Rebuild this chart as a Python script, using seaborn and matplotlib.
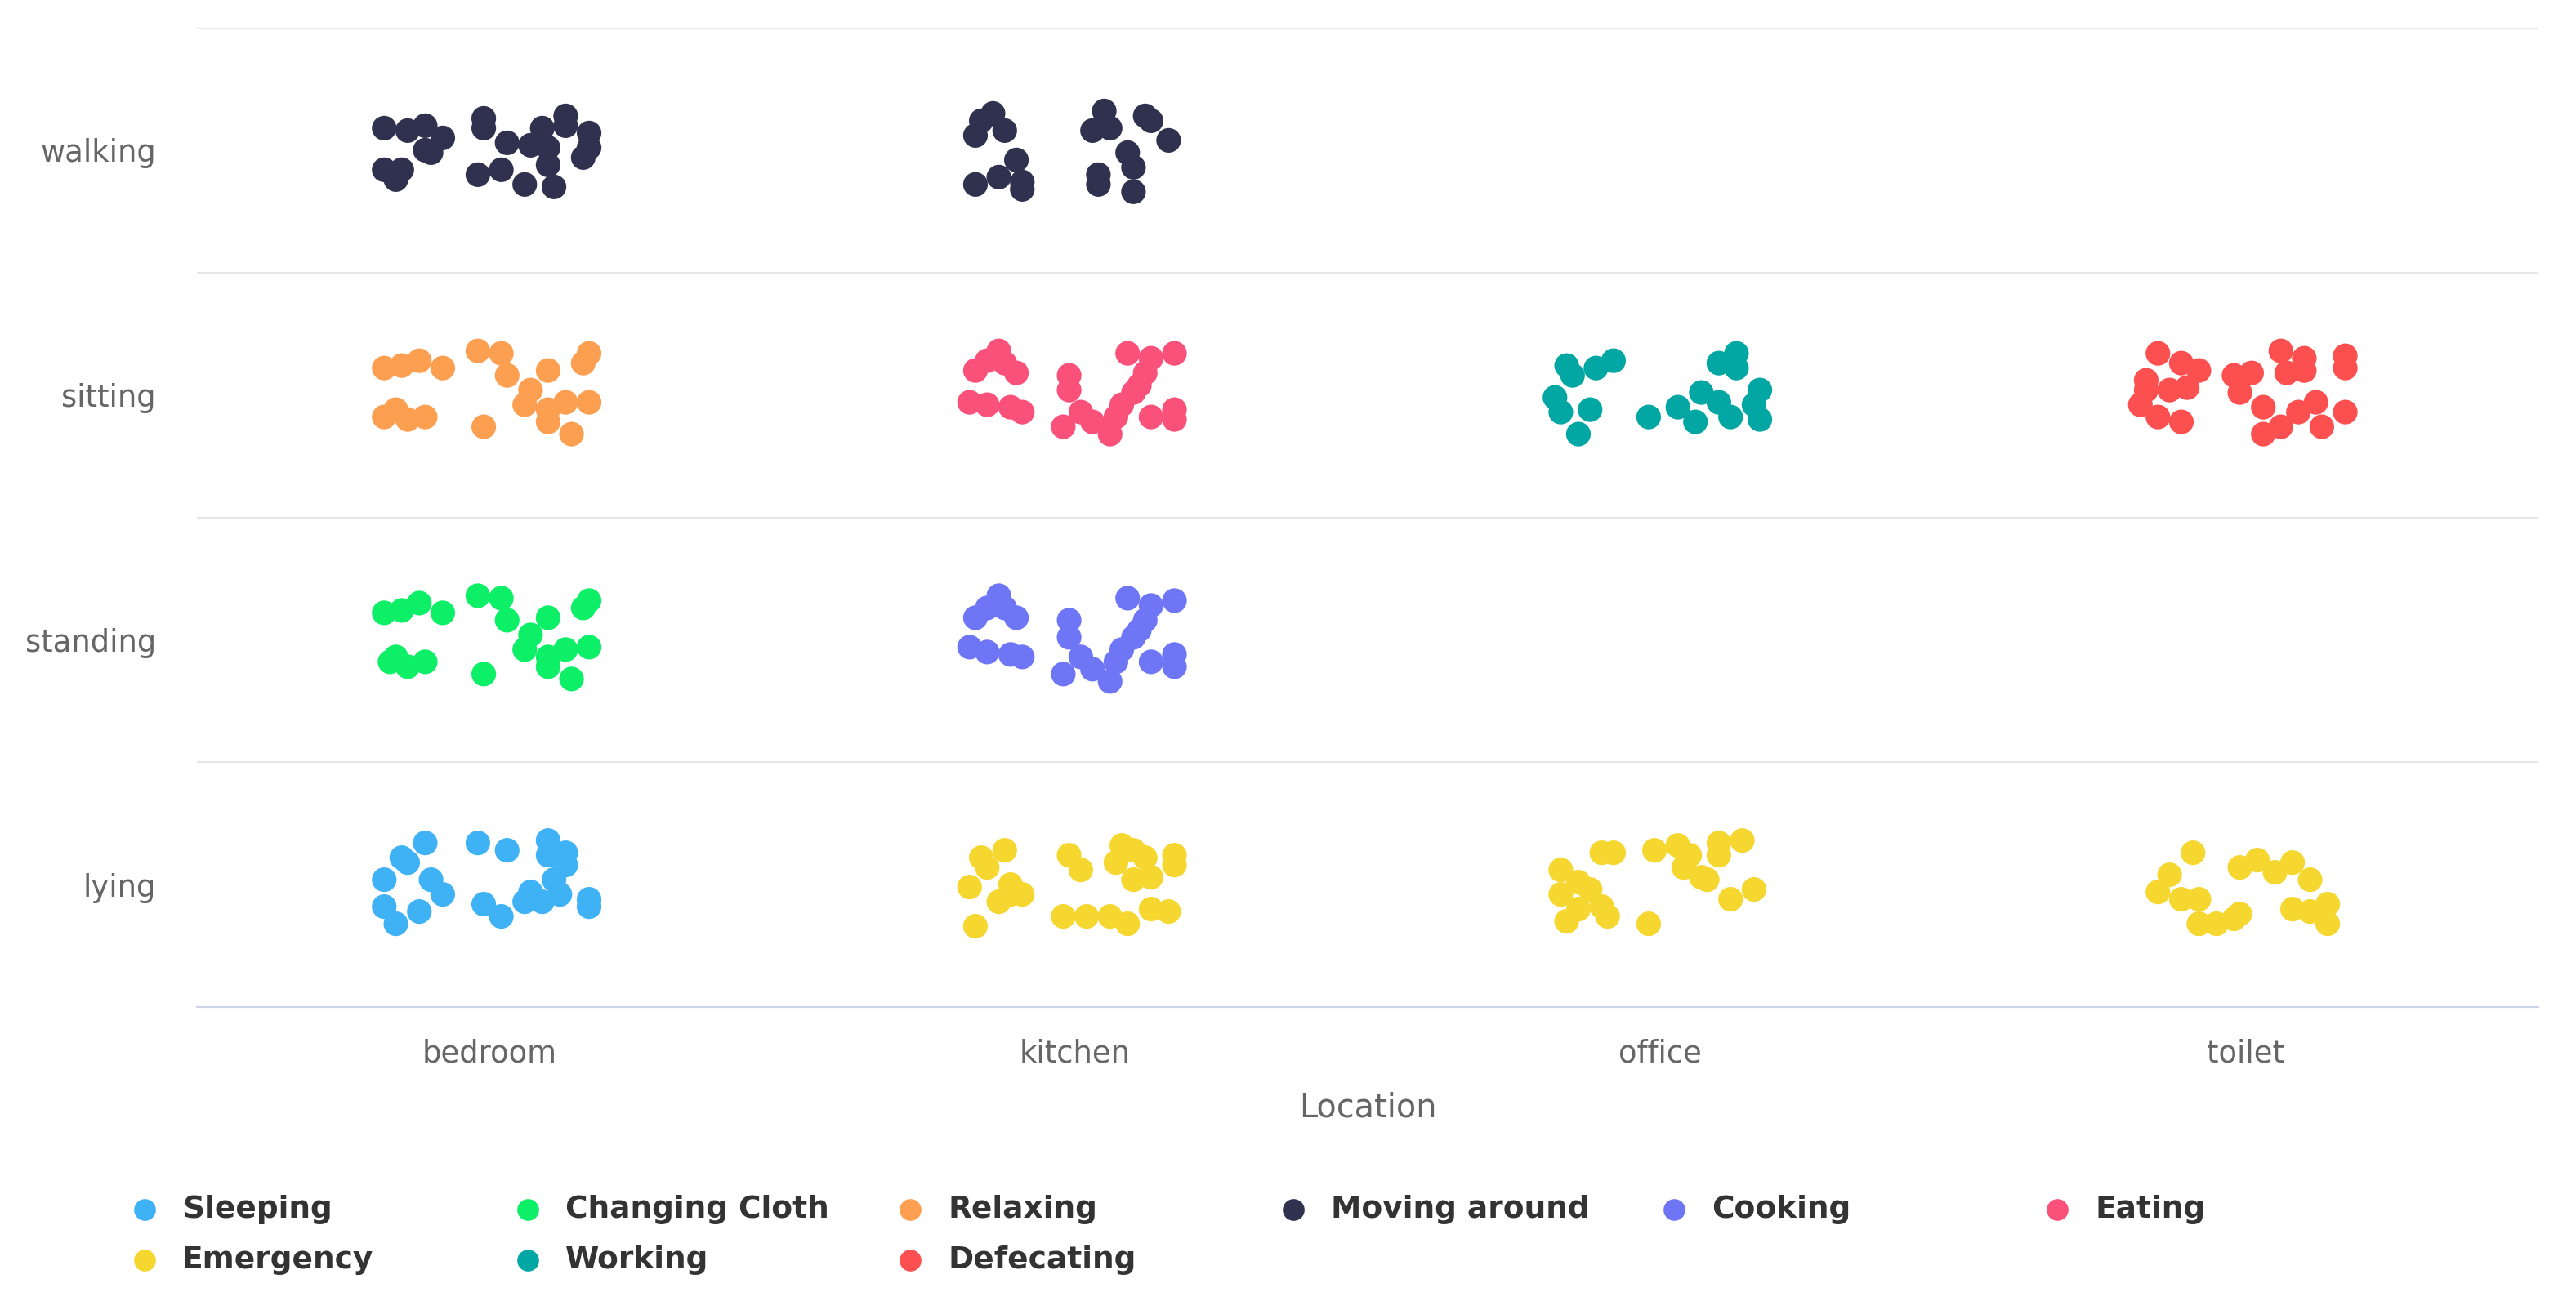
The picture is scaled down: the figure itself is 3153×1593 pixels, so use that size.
import matplotlib
matplotlib.use("Agg")
import matplotlib.pyplot as plt
import pandas as pd
import seaborn as sns
from matplotlib.lines import Line2D

# ---------------- data ----------------
locations = ["bedroom", "kitchen", "office", "toilet"]
postures = ["lying", "standing", "sitting", "walking"]
activities = ["Sleeping", "Changing Cloth", "Relaxing", "Moving around", "Cooking",
              "Eating", "Emergency", "Working", "Defecating"]
activity_colors = ["#3fb2f6", "#0cef66", "#fd9f50", "#30304f", "#6f76f6",
                   "#f9517a", "#f5d730", "#02a7a3", "#fc4f4f"]

# jitter offsets (in category units) of each point
moving_bedroom_dx = [-0.18, -0.14, -0.11, -0.08, -0.11, -0.10, -0.18, -0.15, -0.16, -0.01, -0.01, 0.03, -0.02,
                     0.02, 0.06, 0.13, 0.09, 0.13, 0.07, 0.10, 0.10, 0.17, 0.17, 0.16, 0.11]
moving_bedroom_dy = [0.09, 0.08, 0.10, 0.05, 0.00, -0.01, -0.08, -0.08, -0.12, 0.13, 0.09, 0.03, -0.10,
                     -0.08, -0.14, 0.14, 0.09, 0.10, 0.02, 0.01, -0.06, 0.07, 0.01, -0.03, -0.15]
moving_kitchen_dx = [-0.16, -0.14, -0.17, -0.12, -0.10, -0.13, -0.17, -0.09, -0.09, 0.05, 0.03, 0.06, 0.12,
                     0.13, 0.16, 0.09, 0.10, 0.04, 0.04, 0.10]
moving_kitchen_dy = [0.12, 0.15, 0.06, 0.08, -0.04, -0.11, -0.14, -0.13, -0.16, 0.16, 0.08, 0.09, 0.14,
                     0.12, 0.04, -0.01, -0.07, -0.10, -0.14, -0.17]
relaxing_dx = [-0.18, -0.15, -0.12, -0.08, -0.18, -0.16, -0.14, -0.11, -0.02, 0.02, 0.03, -0.01, 0.10,
               0.17, 0.16, 0.07, 0.06, 0.10, 0.13, 0.10, 0.17, 0.14]
relaxing_dy = [0.11, 0.12, 0.14, 0.11, -0.09, -0.06, -0.10, -0.09, 0.18, 0.17, 0.08, -0.13, 0.10,
               0.17, 0.13, 0.02, -0.04, -0.06, -0.03, -0.11, -0.03, -0.16]
changing_dx = [-0.18, -0.15, -0.12, -0.08, -0.17, -0.16, -0.14, -0.11, -0.02, 0.02, 0.03, -0.01, 0.10,
               0.17, 0.16, 0.07, 0.06, 0.10, 0.13, 0.10, 0.17, 0.14]
changing_dy = [0.11, 0.12, 0.15, 0.11, -0.09, -0.07, -0.11, -0.09, 0.18, 0.17, 0.08, -0.14, 0.09,
               0.16, 0.13, 0.02, -0.04, -0.07, -0.04, -0.11, -0.03, -0.16]
eating_dx = [-0.17, -0.15, -0.13, -0.12, -0.10, -0.18, -0.15, -0.11, -0.09, -0.01, -0.01, -0.02, 0.01,
             0.03, 0.06, 0.07, 0.08, 0.10, 0.11, 0.09, 0.13, 0.12, 0.17, 0.13, 0.17, 0.17]
eating_dy = [0.10, 0.14, 0.18, 0.13, 0.09, -0.03, -0.04, -0.05, -0.07, 0.08, 0.02, -0.13, -0.07,
             -0.11, -0.16, -0.09, -0.04, 0.01, 0.04, 0.17, 0.15, 0.09, 0.17, -0.09, -0.06, -0.10]
cooking_dx = [-0.17, -0.15, -0.13, -0.12, -0.10, -0.18, -0.15, -0.11, -0.09, -0.01, -0.01, -0.02, 0.01,
              0.03, 0.06, 0.07, 0.08, 0.10, 0.11, 0.09, 0.13, 0.12, 0.17, 0.13, 0.17, 0.17]
cooking_dy = [0.09, 0.13, 0.18, 0.13, 0.09, -0.03, -0.05, -0.06, -0.07, 0.08, 0.01, -0.14, -0.07,
              -0.12, -0.17, -0.09, -0.04, 0.01, 0.04, 0.17, 0.14, 0.08, 0.16, -0.09, -0.06, -0.11]
working_dx = [-0.16, -0.15, -0.11, -0.08, -0.18, -0.17, -0.12, -0.14, -0.02, 0.03, 0.06, 0.07, 0.10,
              0.12, 0.10, 0.13, 0.13, 0.17, 0.16, 0.17]
working_dy = [0.12, 0.08, 0.11, 0.14, -0.01, -0.07, -0.06, -0.16, -0.09, -0.05, -0.11, 0.01, -0.03,
              -0.09, 0.13, 0.17, 0.11, 0.02, -0.04, -0.10]
defecating_dx = [-0.15, -0.11, -0.08, -0.17, -0.17, -0.18, -0.13, -0.10, -0.15, -0.11, -0.02, 0.01, -0.01,
                 0.03, 0.06, 0.10, 0.07, 0.10, 0.17, 0.17, 0.03, 0.06, 0.09, 0.12, 0.13, 0.17]
defecating_dy = [0.17, 0.13, 0.10, 0.06, 0.02, -0.04, 0.02, 0.03, -0.09, -0.11, 0.08, 0.09, 0.01,
                 -0.05, 0.18, 0.15, 0.09, 0.10, 0.16, 0.11, -0.16, -0.13, -0.07, -0.03, -0.13, -0.07]
sleeping_dx = [-0.11, -0.15, -0.14, -0.18, -0.10, -0.08, -0.18, -0.16, -0.12, -0.02, 0.03, -0.01, 0.02,
               0.10, 0.10, 0.13, 0.13, 0.11, 0.07, 0.06, 0.09, 0.12, 0.17, 0.17]
sleeping_dy = [0.17, 0.11, 0.09, 0.02, 0.02, -0.04, -0.09, -0.16, -0.11, 0.17, 0.14, -0.08, -0.13,
               0.18, 0.12, 0.13, 0.08, 0.02, -0.03, -0.07, -0.07, -0.04, -0.06, -0.09]
emergency_kitchen_dx = [-0.12, -0.16, -0.15, -0.18, -0.11, -0.13, -0.11, -0.09, -0.17, -0.01, 0.01, -0.02,
                        0.02, 0.06, 0.09, 0.08, 0.10, 0.07, 0.12, 0.10, 0.13, 0.17, 0.17, 0.13, 0.16]
emergency_kitchen_dy = [0.14, 0.11, 0.07, -0.01, 0.00, -0.07, -0.04, -0.04, -0.17, 0.12, 0.06, -0.13,
                        -0.13, -0.13, -0.16, 0.16, 0.14, 0.09, 0.11, 0.02, 0.03, 0.12, 0.08, -0.10, -0.11]
emergency_office_dx = [-0.17, -0.17, -0.14, -0.12, -0.16, -0.14, -0.10, -0.09, -0.10, -0.08, -0.01, -0.02,
                       0.03, 0.05, 0.04, 0.07, 0.08, 0.10, 0.10, 0.14, 0.12, 0.16]
emergency_office_dy = [0.06, -0.04, 0.01, -0.02, -0.15, -0.10, -0.09, -0.13, 0.13, 0.13, 0.14, -0.16,
                       0.16, 0.12, 0.07, 0.03, 0.02, 0.17, 0.12, 0.18, -0.06, -0.02]
emergency_toilet_dx = [-0.09, -0.13, -0.15, -0.11, -0.08, -0.08, -0.05, -0.02, -0.01, -0.01, 0.02, 0.05,
                       0.08, 0.11, 0.08, 0.11, 0.14, 0.14]
emergency_toilet_dy = [0.13, 0.04, -0.03, -0.06, -0.06, -0.16, -0.16, -0.14, -0.12, 0.07, 0.10, 0.05,
                       0.09, 0.02, -0.10, -0.11, -0.08, -0.16]

cells = [
    ("Moving around", "bedroom", "walking", moving_bedroom_dx, moving_bedroom_dy),
    ("Moving around", "kitchen", "walking", moving_kitchen_dx, moving_kitchen_dy),
    ("Relaxing", "bedroom", "sitting", relaxing_dx, relaxing_dy),
    ("Eating", "kitchen", "sitting", eating_dx, eating_dy),
    ("Working", "office", "sitting", working_dx, working_dy),
    ("Defecating", "toilet", "sitting", defecating_dx, defecating_dy),
    ("Changing Cloth", "bedroom", "standing", changing_dx, changing_dy),
    ("Cooking", "kitchen", "standing", cooking_dx, cooking_dy),
    ("Sleeping", "bedroom", "lying", sleeping_dx, sleeping_dy),
    ("Emergency", "kitchen", "lying", emergency_kitchen_dx, emergency_kitchen_dy),
    ("Emergency", "office", "lying", emergency_office_dx, emergency_office_dy),
    ("Emergency", "toilet", "lying", emergency_toilet_dx, emergency_toilet_dy),
]

rows = []
for act, loc, post, dxs, dys in cells:
    for dx, dy in zip(dxs, dys):
        rows.append({"Activity": act,
                     "x": locations.index(loc) + dx,
                     "y": postures.index(post) + dy})
df = pd.DataFrame(rows)
palette = dict(zip(activities, activity_colors))

# ---------------- figure ----------------
sns.set_theme(style="white")
plt.rcParams["font.family"] = ["DejaVu Sans"]
W, H, DPI = 3153, 1593, 200
fig = plt.figure(figsize=(W / DPI, H / DPI), dpi=DPI)
ax = fig.add_axes([241 / W, 1 - 1233 / H, (3107 - 241) / W, (1233 - 34) / H])

sns.scatterplot(data=df, x="x", y="y", hue="Activity", palette=palette,
                s=118, linewidth=0, legend=False, ax=ax, zorder=3)

ax.set_xlim(-0.5, len(locations) - 0.5)
ax.set_ylim(-0.5, len(postures) - 0.5)
ax.set_xticks(range(len(locations)))
ax.set_xticklabels(locations)
ax.set_yticks(range(len(postures)))
ax.set_yticklabels(postures)
ax.set_yticks([i + 0.5 for i in range(len(postures))], minor=True)
ax.grid(False)
ax.grid(which="minor", axis="y", color="#e6e6e6", linewidth=0.8)
ax.tick_params(which="both", length=0)
ax.tick_params(axis="y", pad=18, labelsize=13.3, labelcolor="#666666")
ax.tick_params(axis="x", pad=14, labelsize=13.3, labelcolor="#666666")
for s in ["top", "left", "right"]:
    ax.spines[s].set_visible(False)
ax.spines["bottom"].set_color("#ccd6eb")
ax.spines["bottom"].set_linewidth(0.8)
ax.set_ylabel("")
ax.set_xlabel("Location", fontsize=14.3, color="#666666", labelpad=10)

# legend (Highcharts-like fixed-width items, row-major)
leg_x = [177, 646, 1114, 1583, 2049, 2518]
leg_y = [1481, 1543]
for i, (act, col) in enumerate(zip(activities, activity_colors)):
    r, c = divmod(i, 6)
    xm, ym = leg_x[c] / W, 1 - leg_y[r] / H
    fig.add_artist(Line2D([xm], [ym], marker="o", markersize=8.6, color=col,
                          linestyle="none", transform=fig.transFigure))
    fig.text(xm + 46 / W, ym, act, fontsize=13.5, fontweight="bold",
             color="#333333", va="center", ha="left")

fig.savefig("out.png", dpi=DPI, facecolor="white")
